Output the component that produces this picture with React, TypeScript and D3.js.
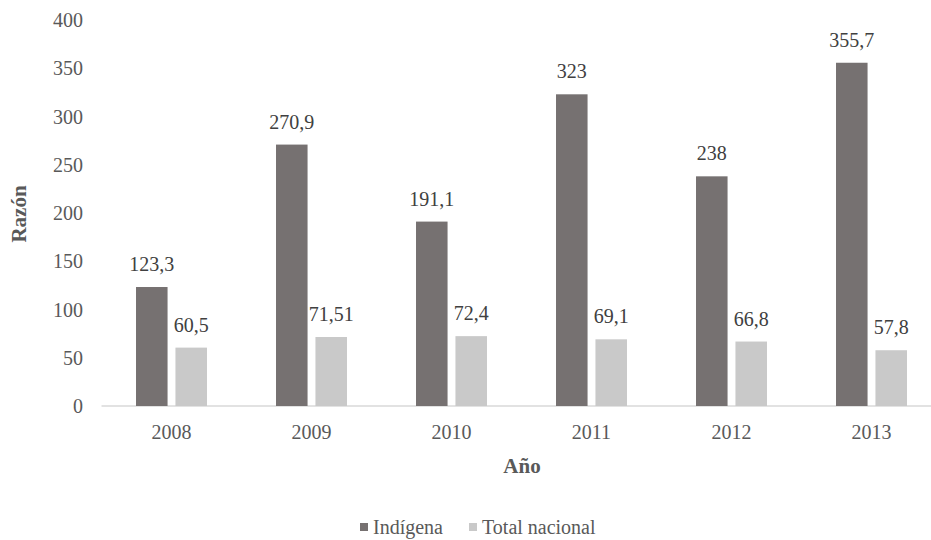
import React from "react";
import * as d3 from "d3";

const years = ["2008", "2009", "2010", "2011", "2012", "2013"];
const indigena = [123.3, 270.9, 191.1, 323, 238, 355.7];
const totalNacional = [60.5, 71.51, 72.4, 69.1, 66.8, 57.8];
const valueLabelsIndigena = ["123,3", "270,9", "191,1", "323", "238", "355,7"];
const valueLabelsTotal = ["60,5", "71,51", "72,4", "69,1", "66,8", "57,8"];
const seriesNames = ["Indígena", "Total nacional"];
const yTicks = [0, 50, 100, 150, 200, 250, 300, 350, 400];

const colors = ["#767171", "#c9c9c9"];
const textColor = "#595959";
const font = "Liberation Serif";

const width = 931;
const height = 540;
const margin = { top: 20, left: 101.5, bottom: 406 };

const App = () => {
  const x0 = d3
    .scaleBand()
    .domain(years)
    .range([margin.left, margin.left + 840])
    .paddingInner(0.493)
    .paddingOuter(0.2465);
  const x1 = d3.scaleBand().domain(seriesNames).range([0, x0.bandwidth()]).paddingInner(0.2);
  const y = d3.scaleLinear().domain([0, 400]).range([margin.bottom, margin.top]);

  const series = [
    { name: seriesNames[0], values: indigena, labels: valueLabelsIndigena, color: colors[0] },
    { name: seriesNames[1], values: totalNacional, labels: valueLabelsTotal, color: colors[1] },
  ];

  return (
    <svg width={width} height={height} style={{ position: "absolute", left: 0, top: 0, background: "#fff" }}>
      {yTicks.map((t) => (
        <text key={t} x={83} y={y(t)} dy="0.35em" textAnchor="end" fontSize={20} fontFamily={font} fill={textColor}>
          {t}
        </text>
      ))}
      <line x1={margin.left} x2={width} y1={y(0)} y2={y(0)} stroke="#d9d9d9" strokeWidth={1.3} />
      {series.map((s) =>
        years.map((yr, i) => {
          const bx = (x0(yr) ?? 0) + (x1(s.name) ?? 0);
          const bw = x1.bandwidth();
          return (
            <g key={s.name + yr}>
              <rect x={bx} y={y(s.values[i])} width={bw} height={y(0) - y(s.values[i])} fill={s.color} />
              <text
                x={bx + bw / 2}
                y={y(s.values[i]) - 16}
                textAnchor="middle"
                fontSize={20}
                fontFamily={font}
                fill="#404040"
              >
                {s.labels[i]}
              </text>
            </g>
          );
        })
      )}
      {years.map((yr) => (
        <text
          key={yr}
          x={(x0(yr) ?? 0) + x0.bandwidth() / 2}
          y={439}
          textAnchor="middle"
          fontSize={20}
          fontFamily={font}
          fill={textColor}
        >
          {yr}
        </text>
      ))}
      <text x={522} y={473} textAnchor="middle" fontSize={21} fontWeight="bold" fontFamily={font} fill={textColor}>
        Año
      </text>
      <text
        transform="translate(26,214) rotate(-90)"
        textAnchor="middle"
        fontSize={21}
        fontWeight="bold"
        fontFamily={font}
        fill={textColor}
      >
        Razón
      </text>
      <rect x={360} y={523} width={8} height={8} fill={colors[0]} />
      <text x={373} y={534} fontSize={20} fontFamily={font} fill={textColor}>
        {seriesNames[0]}
      </text>
      <rect x={469} y={523} width={8} height={8} fill={colors[1]} />
      <text x={482} y={534} fontSize={20} fontFamily={font} fill={textColor}>
        {seriesNames[1]}
      </text>
    </svg>
  );
};

export default App;
